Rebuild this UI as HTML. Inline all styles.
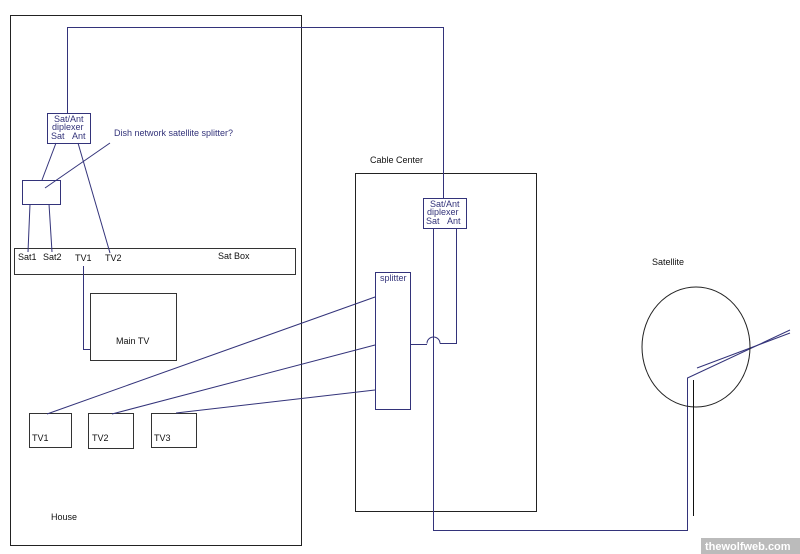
<!DOCTYPE html>
<html><head><style>body{margin:0;background:#fff}svg{display:block}text{font-family:"Liberation Sans",sans-serif;font-size:9px}</style></head><body>
<svg width="800" height="554" viewBox="0 0 800 554" xmlns="http://www.w3.org/2000/svg">
<g fill="none" stroke-width="1" shape-rendering="crispEdges">
<rect x="10.5" y="15.5" width="291" height="530" stroke="#222"/>
<rect x="14.5" y="248.5" width="281" height="26" stroke="#333"/>
<rect x="90.5" y="293.5" width="86" height="67" stroke="#333"/>
<rect x="29.5" y="413.5" width="42" height="34" stroke="#333"/>
<rect x="88.5" y="413.5" width="45" height="35" stroke="#333"/>
<rect x="151.5" y="413.5" width="45" height="34" stroke="#333"/>
<rect x="355.5" y="173.5" width="181" height="338" stroke="#222"/>
<rect x="47.5" y="113.5" width="43" height="30" stroke="#33337a"/>
<rect x="22.5" y="180.5" width="38" height="24" stroke="#33337a"/>
<rect x="423.5" y="198.5" width="43" height="30" stroke="#33337a"/>
<rect x="375.5" y="272.5" width="35" height="137" stroke="#33337a"/>
</g>
<g fill="none" stroke="#33337a" stroke-width="1">
<polyline points="67.5,113 67.5,27.5 443.5,27.5 443.5,198"/>
<line x1="56" y1="143" x2="42" y2="180"/>
<line x1="78" y1="143" x2="110" y2="253"/>
<line x1="30" y1="204" x2="28" y2="252"/>
<line x1="49" y1="204" x2="52" y2="252"/>
<line x1="45" y1="188" x2="110" y2="143"/>
<polyline points="83.5,266 83.5,349.5 90,349.5"/>
<line x1="47" y1="414" x2="375" y2="297"/>
<line x1="112" y1="414" x2="375" y2="345"/>
<line x1="176" y1="413" x2="375" y2="390"/>
<polyline points="433.5,228 433.5,530.5 687.5,530.5 687.5,378 790,330"/>
<polyline points="456.5,228 456.5,343.5 440,343.5"/>
<path d="M440,343.5 A6.5,6.5 0 0 0 427,343.5"/>
<line x1="410" y1="344.5" x2="427" y2="344.5"/>
<line x1="697" y1="368" x2="790" y2="333"/>
</g>
<ellipse cx="696" cy="347" rx="54" ry="60" fill="none" stroke="#222"/>
<line x1="693.5" y1="380" x2="693.5" y2="516" stroke="#111"/>
<g fill="#111">
<text x="18" y="260">Sat1</text><text x="43" y="260">Sat2</text><text x="75" y="261">TV1</text><text x="105" y="261">TV2</text>
<text x="218" y="259">Sat Box</text>
<text x="116" y="344">Main TV</text>
<text x="32" y="441">TV1</text><text x="92" y="441">TV2</text><text x="154" y="441">TV3</text>
<text x="51" y="520">House</text>
<text x="370" y="163">Cable Center</text>
<text x="652" y="265">Satellite</text>
</g>
<g fill="#33337a">
<text x="54" y="122">Sat/Ant</text><text x="52" y="130">diplexer</text><text x="51" y="139">Sat&#160;&#160;&#160;Ant</text>
<text x="114" y="136">Dish network satellite splitter?</text>
<text x="430" y="207">Sat/Ant</text><text x="427" y="215">diplexer</text><text x="426" y="224">Sat&#160;&#160;&#160;Ant</text>
<text x="380" y="281">splitter</text>
</g>
<rect x="701" y="538" width="99" height="16" fill="#bbb"/>
<text x="705" y="550" fill="#fff" style="font-size:11px;font-weight:bold">thewolfweb.com</text>
</svg>
</body></html>
